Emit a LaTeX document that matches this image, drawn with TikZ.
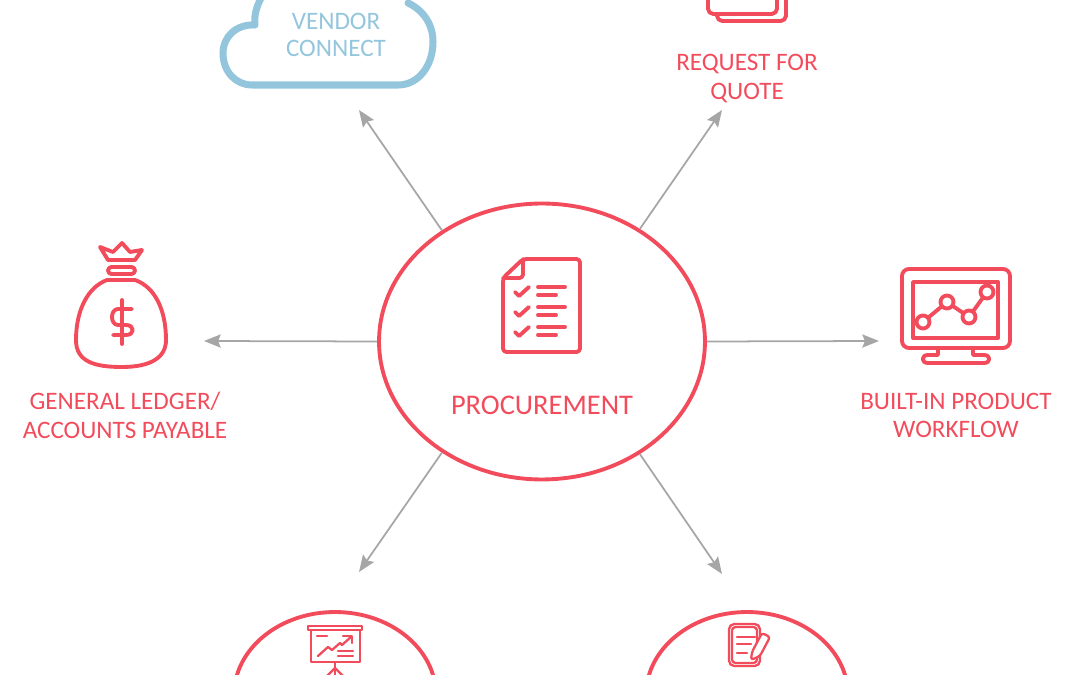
\documentclass[tikz,border=0pt]{standalone}
\usepackage{fontspec}
\usetikzlibrary{arrows.meta,shapes.geometric}
\setmainfont{Carlito}
\definecolor{ProcRed}{HTML}{F24C5C}
\definecolor{CloudBlue}{HTML}{93C6DC}
\definecolor{ArrowGray}{HTML}{A6A6A6}
\tikzset{
  hub/.style={draw=ProcRed, ellipse, line width=2.2pt, inner sep=0pt, fill=white},
  spoke/.style={draw=ArrowGray, line width=1pt, -{Stealth[length=9.5pt,width=7.5pt,inset=1.5pt]}},
  icon/.style={draw=ProcRed, line width=2.2pt, line cap=round, line join=round},
  thinicon/.style={draw=ProcRed, line width=1.3pt, line cap=round, line join=round},
  caption/.style={text=ProcRed, font=\fontsize{14.3}{16.4}\selectfont, align=center},
}

\begin{document}
\begin{tikzpicture}[x=0.02cm, y=-0.02cm]
    \useasboundingbox (0,0) rectangle (1080,675);
    \clip (0,0) rectangle (1080,675);

    % Define arrow ends
    \coordinate (VendorEnd) at (359,110);
    \coordinate (QuoteEnd) at (722,110);
    \coordinate (LedgerEnd) at (204,341);
    \coordinate (WorkflowEnd) at (879,341);
    \coordinate (ReportEnd) at (359,572);
    \coordinate (ContractEnd) at (722,574);

    % Center and bottom ellipses
    \node[hub, minimum width=6.52cm, minimum height=5.52cm] (Proc) at (542,341.5) {};
    \node[hub, minimum width=4.04cm, minimum height=3.32cm] (Report) at (335,695) {};
    \node[hub, minimum width=4.04cm, minimum height=3.32cm] (Contract) at (747,695) {};

    % Arrows out of the center
    \draw[spoke] (Proc.132) -- (VendorEnd);
    \draw[spoke] (Proc.49.5) -- (QuoteEnd);
    \draw[spoke] (Proc.west) -- (LedgerEnd);
    \draw[spoke] (Proc.east) -- (WorkflowEnd);
    \draw[spoke] (Proc.228) -- (ReportEnd);
    \draw[spoke] (Proc.-49.5) -- (ContractEnd);

    % Labels
    \node[caption] (ProcLabel) at (542,405) {\fontsize{16.2}{18}\selectfont PROCUREMENT};
    \node[caption, text=CloudBlue] (VendorLabel) at (336,35) {VENDOR\\[-0.6pt]CONNECT};
    \node[caption] (QuoteLabel) at (747,78.5) {REQUEST FOR\\QUOTE};
    \node[caption] (LedgerLabel) at (125,415.5) {GENERAL LEDGER/\\ACCOUNTS PAYABLE};
    \node[caption] (WorkflowLabel) at (956,415.5) {BUILT-IN PRODUCT\\WORKFLOW};

    % Cloud, open at the top
    \draw[draw=CloudBlue, line width=4pt, line cap=round, line join=round]
        (261,-2) .. controls (256,8) and (254,16) .. (255,25)
        .. controls (236,24) and (223,37) .. (223,53)
        .. controls (223,72) and (236,85) .. (252,85)
        -- (398,85)
        .. controls (419,85) and (433,65) .. (433,42)
        .. controls (433,24) and (423,10) .. (408,3);

    % Quote sheets
    \draw[icon, rounded corners=3pt] (708,-5) -- (708,14) -- (777,14) -- (777,-5);
    \draw[icon, rounded corners=3pt] (717,14) -- (717,21) -- (786,21) -- (786,-5);

    % Checklist
    \draw[icon, rounded corners=2pt] (523,259) -- (580,259) -- (580,352) -- (503,352) -- (503,278) -- cycle;
    \draw[icon, rounded corners=2pt] (523,259) -- (523,278) -- (503,278);
    \foreach \rowy in {0,20,40} {
        \draw[icon] (515,292+\rowy) -- (519,296+\rowy) -- (529,287+\rowy);
        \draw[icon] (538,287+\rowy) -- (565,287+\rowy);
        \draw[icon] (538,295+\rowy) -- (556,295+\rowy);
    }

    % Money bag
    \draw[icon] (100,247) -- (108,260) -- (135,260) -- (142,250) -- (130,252) -- (122,243) -- (113,252) -- cycle;
    \draw[icon, rounded corners=2pt] (108,267) rectangle (135,274);
    \draw[icon] (107,280) -- (135,280)
        .. controls (155,287) and (166,310) .. (166,340)
        .. controls (166,358) and (150,367) .. (122,367)
        .. controls (95,367) and (76,362) .. (76,340)
        .. controls (76,310) and (88,287) .. (107,280);
    \draw[icon] (122,300) -- (122,344);
    \draw[icon] (132,309) -- (118,309) .. controls (110,309) and (110,325) .. (118,325)
        -- (126,325) .. controls (135,325) and (135,335) .. (126,335) -- (113,335);

    % Monitor
    \draw[icon, rounded corners=4pt] (902,269) rectangle (1010,348);
    \draw[icon] (913,282) rectangle (998,338);
    \draw[icon] (938,348) -- (938,355) -- (928,355) .. controls (921,355) and (921,363) .. (928,363)
        -- (984,363) .. controls (991,363) and (991,355) .. (984,355) -- (973,355) -- (973,348);
    \draw[icon] (923,322) -- (947,302) -- (969,317) -- (987,292);
    \foreach \px/\py in {923/322, 947/302, 969/317, 987/292} {
        \draw[icon, fill=white] (\px,\py) circle (6.5);
    }

    % Presentation board
    \draw[thinicon] (308,626) rectangle (362,630);
    \draw[thinicon] (311,630) rectangle (360,662);
    \draw[thinicon] (335,662) -- (335,680);
    \draw[thinicon] (327,676) -- (335,668) -- (343,676);
    \draw[thinicon] (317,636) -- (327,636);
    \draw[thinicon] (318,656) -- (328,647) -- (332,650) -- (340,643) -- (342,645) -- (351,637);
    \draw[thinicon] (343,636) -- (352,636) -- (352,643);
    \draw[thinicon] (338,651) -- (353,651);
    \draw[thinicon] (338,656) -- (353,656);

    % Notepad and pen
    \draw[thinicon, rounded corners=3pt] (729,624) rectangle (760,666);
    \draw[thinicon, rounded corners=2pt] (732,627) rectangle (757,663);
    \draw[thinicon] (737,637) -- (755,637);
    \draw[thinicon] (737,644) -- (751,644);
    \draw[thinicon] (737,653) -- (747,653);
    \draw[thinicon, fill=white, rounded corners=1.5pt] (752,652) -- (762,633) -- (770,637) -- (760,656) -- (751,660) -- cycle;
\end{tikzpicture}
\end{document}
